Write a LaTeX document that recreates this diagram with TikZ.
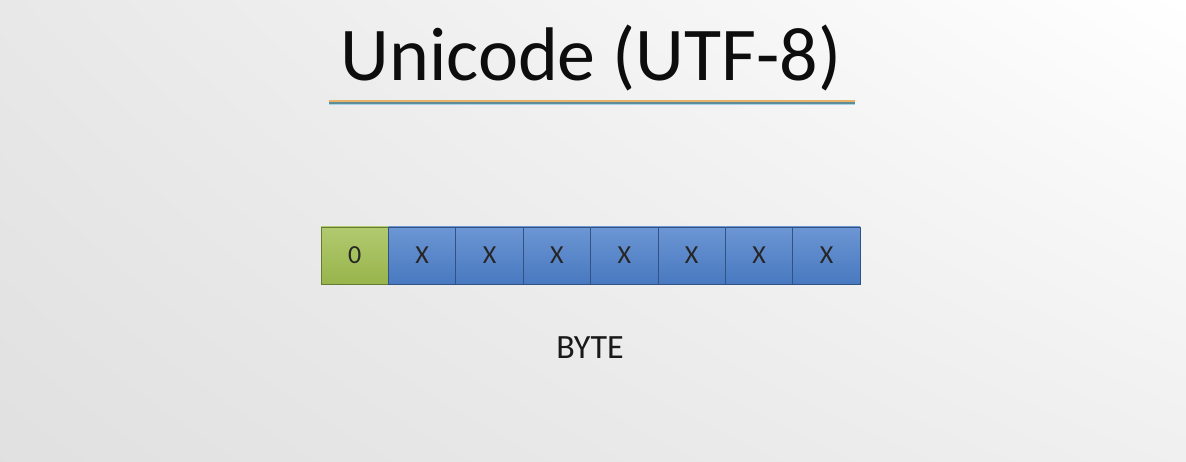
\documentclass[tikz,border=0pt]{standalone}
\usepackage{fontspec}
\setmainfont{Carlito}
\usepackage{xcolor}
\usetikzlibrary{shadings}
\definecolor{bitblue}{RGB}{76,127,202}
\definecolor{bitgreen}{RGB}{160,190,80}
\definecolor{lineorange}{RGB}{232,178,105}
\definecolor{lineteal}{RGB}{95,140,155}
\definecolor{lineblue}{RGB}{170,210,230}
\tikzset{
  bitbox/.style={minimum width=67.4pt, minimum height=57pt, inner sep=0pt,
    draw=#1!65!black, line width=0.9pt, top color=#1!82!white, bottom color=#1!95!black,
    font=\fontsize{26}{28}\selectfont, text=black!85},
  bitbox/.default=bitblue
}

\begin{document}
\begin{tikzpicture}[x=1pt,y=-1pt]
        \useasboundingbox (0,0) rectangle (1186,462);
        \shade[upper left=black!9, upper right=white, lower left=black!12, lower right=black!6]
          (0,0) rectangle (1186,462);
        % title
        \node[anchor=base, font=\fontsize{76}{80}\selectfont, text=black!95] (title) at (591,81) {Unicode (UTF-8)};
        \draw[line width=1.3pt, lineorange] (329,101) -- (855,101);
        \draw[line width=1.8pt, lineteal] (329,102.8) -- (855,102.8);
        \draw[line width=1pt, lineblue] (329,104.5) -- (855,104.5);
        % byte
        \node[bitbox=bitgreen] (bit0) at (354.7,255.5) {0};
        \foreach \i in {1,...,7} \node[bitbox] (bit\i) at (354.7+67.4*\i,255.5) {X};
        \node[anchor=base, font=\fontsize{34}{36}\selectfont, text=black!90] (byte) at (590,358) {BYTE};
    \end{tikzpicture}
\end{document}
